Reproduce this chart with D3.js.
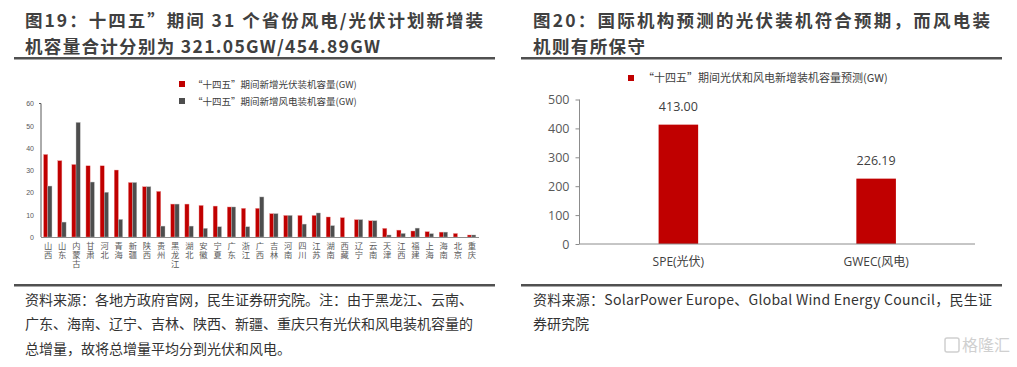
<!DOCTYPE html>
<html>
<head>
<meta charset="utf-8">
<script src="https://cdnjs.cloudflare.com/ajax/libs/d3/7.8.5/d3.min.js"></script>
<style>
  body { margin: 0; background: #fff; }
  svg { display: block; font-family: "Noto Sans CJK SC", "Noto Sans", sans-serif; }
  .plab { writing-mode: vertical-rl; text-orientation: upright; }
</style>
</head>
<body>
<svg id="chart" width="1017" height="367"></svg>
<script>
// left chart data: 31 provinces
const provinces = ["山西","山东","内蒙古","甘肃","河北","青海","新疆","陕西","贵州","黑龙江","湖北","安徽","宁夏","广东","浙江","广西",
  "吉林","河南","四川","江苏","湖南","西藏","辽宁","云南","天津","江西","福建","上海","海南","北京","重庆"];
const solarValues = [37.1,34.3,32.6,32.0,32.0,30.1,24.5,22.6,20.5,14.8,14.8,14.2,13.9,13.5,12.9,12.9,
  10.5,9.7,9.7,9.7,9.0,8.7,7.8,7.3,3.9,3.1,2.7,2.4,2.2,1.6,0.9];
const windValues = [22.9,6.7,51.5,24.7,20.1,7.9,24.5,22.6,4.9,14.8,4.9,3.9,4.6,13.5,4.6,18.0,
  10.5,9.7,5.8,10.8,5.1,0,7.8,7.3,0.9,1.6,4.0,1.5,2.2,0,0.9];
const leftTicks = [0,10,20,30,40,50,60];
const leftSeries = ["“十四五”期间新增光伏装机容量(GW)", "“十四五”期间新增风电装机容量(GW)"];

// right chart data
const orgs = ["SPE(光伏)", "GWEC(风电)"];
const forecastValues = [413.00, 226.19];
const rightTicks = [0,100,200,300,400,500];
const rightSeries = "“十四五”期间光伏和风电新增装机容量预测(GW)";

const red = "#c00000", dark = "#4d4d4d", titleColor = "#404040", textColor = "#404040";

const svg = d3.select("#chart");

// ---------- titles and rules ----------
const titles = [
  {x: 25, lines: ["图19：十四五”期间 31 个省份风电/光伏计划新增装", "机容量合计分别为 321.05GW/454.89GW"], widths: [458, 355]},
  {x: 533, lines: ["图20：国际机构预测的光伏装机符合预期，而风电装", "机则有所保守"], widths: [457, 112]}
];
titles.forEach(t => {
  t.lines.forEach((ln, i) => {
    svg.append("text")
      .attr("x", t.x).attr("y", 27 + i * 25.5)
      .attr("font-size", 17.5).attr("font-weight", "bold")
      .attr("fill", titleColor)
      .style("white-space", "pre")
      .attr("textLength", t.widths[i]).attr("lengthAdjust", "spacing")
      .text(ln);
  });
});
[[14, 57], [521, 57], [14, 284], [521, 284]].forEach(p => {
  svg.append("rect").attr("x", p[0]).attr("y", p[1]).attr("width", 481).attr("height", 2.5).attr("fill", "#505050");
});

// ---------- left chart ----------
const L = {left: 41, right: 479, top: 103.5, bottom: 237};
const lx = d3.scaleBand().domain(provinces).range([L.left, L.right]).paddingInner(0).paddingOuter(0);
const ly = d3.scaleLinear().domain([0, 60]).range([L.bottom, L.top]);
const barW = 4.2;
const lg = svg.append("g");

lg.selectAll(".solar").data(provinces).enter().append("rect")
  .attr("class", "solar")
  .attr("x", d => lx(d) + lx.bandwidth() / 2 - barW - 0.3)
  .attr("y", (d, i) => ly(solarValues[i]))
  .attr("width", barW)
  .attr("height", (d, i) => ly(0) - ly(solarValues[i]))
  .attr("fill", red)
  .attr("stroke", "#f0a0a0").attr("stroke-width", 0.4);

lg.selectAll(".wind").data(provinces).enter().append("rect")
  .attr("class", "wind")
  .attr("x", d => lx(d) + lx.bandwidth() / 2 - 0.3)
  .attr("y", (d, i) => ly(windValues[i]))
  .attr("width", barW)
  .attr("height", (d, i) => ly(0) - ly(windValues[i]))
  .attr("fill", dark)
  .attr("stroke", "#bbbbbb").attr("stroke-width", 0.4);

const lyAxis = lg.append("g")
  .attr("transform", `translate(${L.left},0)`)
  .call(d3.axisLeft(ly).tickValues(leftTicks).tickSize(2).tickPadding(5));
lyAxis.select(".domain").attr("stroke", "#595959").attr("d", `M-2,${L.top}H0V${L.bottom}`);
lyAxis.selectAll(".tick line").attr("stroke", "#595959").attr("x2", 0).attr("x1", 0);
lyAxis.selectAll("text").attr("font-size", 7).attr("fill", "#595959").attr("font-family", "Liberation Sans, sans-serif");

lg.append("line")
  .attr("x1", L.left).attr("x2", L.right)
  .attr("y1", L.bottom + 0.5).attr("y2", L.bottom + 0.5)
  .attr("stroke", "#8c8c8c").attr("stroke-width", 1);

// vertical province labels
lg.selectAll(".plab").data(provinces).enter().append("text")
  .attr("class", "plab")
  .attr("x", d => lx(d) + lx.bandwidth() / 2)
  .attr("y", 242)
  .attr("font-size", 8.3).attr("fill", "#595959")
  .attr("letter-spacing", 0.3)
  .text(d => d);

// left legend
leftSeries.forEach((s, i) => {
  const y = 84 + i * 17;
  lg.append("rect").attr("x", 179).attr("y", y - 3).attr("width", 6).attr("height", 6)
    .attr("fill", i === 0 ? red : dark);
  lg.append("text").attr("x", 193).attr("y", y + 3.5)
    .attr("font-size", 9.5).attr("fill", textColor).text(s);
});

// ---------- right chart ----------
const R = {left: 579.5, right: 975, top: 99.5, bottom: 244};
const rx = d3.scaleBand().domain(orgs).range([R.left, R.right]).paddingInner(0.8).paddingOuter(0.4);
const ry = d3.scaleLinear().domain([0, 500]).range([R.bottom, R.top]);
const rg = svg.append("g");

rg.selectAll(".fbar").data(orgs).enter().append("rect")
  .attr("class", "fbar")
  .attr("x", d => rx(d))
  .attr("y", (d, i) => ry(forecastValues[i]))
  .attr("width", rx.bandwidth())
  .attr("height", (d, i) => ry(0) - ry(forecastValues[i]))
  .attr("fill", red);

rg.selectAll(".flab").data(orgs).enter().append("text")
  .attr("class", "flab")
  .attr("x", d => rx(d) + rx.bandwidth() / 2)
  .attr("y", (d, i) => ry(forecastValues[i]) - 14)
  .attr("text-anchor", "middle")
  .attr("font-size", 12.5).attr("fill", "#404040")
  .attr("font-family", "Open Sans, sans-serif")
  .text((d, i) => forecastValues[i].toFixed(2));

const ryAxis = rg.append("g")
  .attr("transform", `translate(${R.left},0)`)
  .call(d3.axisLeft(ry).tickValues(rightTicks).tickSize(4).tickPadding(6));
ryAxis.select(".domain").attr("stroke", "#8c8c8c").attr("d", `M0,${R.top}V${R.bottom}`);
ryAxis.selectAll(".tick line").attr("stroke", "#8c8c8c");
ryAxis.selectAll("text").attr("font-size", 12.5).attr("fill", "#595959").attr("font-family", "Open Sans, sans-serif");

const rxAxis = rg.append("g")
  .attr("transform", `translate(0,${R.bottom})`)
  .call(d3.axisBottom(rx).tickSize(0).tickPadding(13));
rxAxis.select(".domain").attr("stroke", "#8c8c8c").attr("d", `M${R.left},0H${R.right}`);
rxAxis.selectAll("text").attr("font-size", 12).attr("fill", "#404040")
  .attr("font-family", "Open Sans, Noto Sans CJK SC, sans-serif");

rg.append("rect").attr("x", 628).attr("y", 75).attr("width", 6).attr("height", 6).attr("fill", red);
rg.append("text").attr("x", 643).attr("y", 82)
  .attr("font-size", 11).attr("fill", textColor).text(rightSeries);

// ---------- footnotes ----------
const leftNotes = ["资料来源：各地方政府官网，民生证券研究院。注：由于黑龙江、云南、",
  "广东、海南、辽宁、吉林、陕西、新疆、重庆只有光伏和风电装机容量的",
  "总增量，故将总增量平均分到光伏和风电。"];
leftNotes.forEach((n, i) => {
  svg.append("text").attr("x", 25).attr("y", 305 + i * 24.3)
    .attr("font-size", 14).attr("fill", "#333").text(n);
});
const rightNotes = ["资料来源：SolarPower Europe、Global Wind Energy Council，民生证",
  "券研究院"];
rightNotes.forEach((n, i) => {
  const el = svg.append("text").attr("x", 533).attr("y", 305 + i * 24.3)
    .attr("font-size", 14).attr("fill", "#333").text(n);
  if (i === 0) el.attr("textLength", 459).attr("lengthAdjust", "spacing");
});

// watermark
svg.append("rect").attr("x", 945).attr("y", 338).attr("width", 14).attr("height", 14)
  .attr("fill", "none").attr("stroke", "#d0d0d0").attr("stroke-width", 1.5).attr("rx", 2);
svg.append("text").attr("x", 1010).attr("y", 351).attr("text-anchor", "end")
  .attr("font-size", 16).attr("fill", "#d0d0d0").text("格隆汇");
</script>
</body>
</html>
